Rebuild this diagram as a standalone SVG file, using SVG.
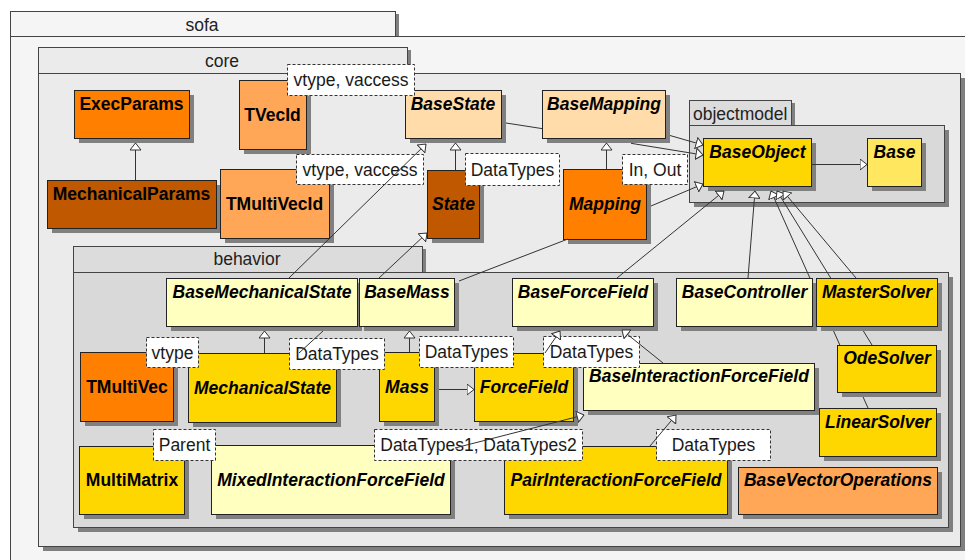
<svg xmlns="http://www.w3.org/2000/svg" width="965" height="560" viewBox="0 0 965 560">
  <defs>
    <style>
      .sh { fill: #808080; }
      .pk { stroke: #444; stroke-width: 1; }
      .n { stroke: #222; stroke-width: 1; }
      .pt { font-family: "Liberation Sans", Arial, sans-serif; font-size: 17.5px; fill: #222; }
      .t { font-family: "Liberation Sans", Arial, sans-serif; font-size: 17.5px; font-weight: bold; fill: #000; text-anchor: middle; }
      .i { font-style: italic; }
      .lb { fill: #fff; stroke: #333; stroke-width: 1; stroke-dasharray: 3 2; }
      .lt { font-family: "Liberation Sans", Arial, sans-serif; font-size: 17.5px; fill: #1a1a1a; text-anchor: middle; }
      .c { fill: none; stroke: #333; stroke-width: 1; }
      .c.a { marker-end: url(#tri); }
      .orange { fill: #ff7f00; }
      .brown { fill: #c05800; }
      .light { fill: #ffa756; }
      .peach { fill: #ffdcaa; }
      .gold { fill: #ffd700; }
      .pale { fill: #ffffc0; }
      .lemon { fill: #ffe760; }
    </style>
    <marker id="tri" viewBox="0 0 8 12" refX="7.5" refY="6" markerWidth="8" markerHeight="12" markerUnits="userSpaceOnUse" orient="auto">
      <path d="M0.5,0.5 L7.5,6 L0.5,11.5 Z" fill="#fff" stroke="#333" stroke-width="1"/>
    </marker>
  </defs>

  <rect x="0" y="0" width="965" height="560" fill="#fff"/>

  <!-- packages -->
  <g id="pkg-sofa">
    <rect class="sh" x="14" y="14" width="385" height="25"/>
    <rect class="pk" x="10.5" y="36.5" width="970" height="540" fill="#f5f5f5"/>
    <rect class="pk" x="10.5" y="11.5" width="385" height="25" fill="#f5f5f5"/>
    <text class="pt" x="202" y="31" text-anchor="middle">sofa</text>
  </g>
  <g id="pkg-core">
    <rect class="sh" x="42" y="50" width="369" height="26"/>
    <rect class="sh" x="43" y="78" width="922" height="473"/>
    <rect class="pk" x="38.5" y="73.5" width="922" height="473" fill="#ebebeb"/>
    <rect class="pk" x="38.5" y="47.5" width="369" height="26" fill="#ebebeb"/>
    <text class="pt" x="222" y="67" text-anchor="middle">core</text>
  </g>
  <g id="pkg-objectmodel">
    <rect class="sh" x="693" y="103" width="102" height="25"/>
    <rect class="sh" x="694" y="130" width="255" height="77"/>
    <rect class="pk" x="689.5" y="125.5" width="255" height="77" fill="#d9d9d9"/>
    <rect class="pk" x="689.5" y="100.5" width="102" height="25" fill="#dcdcdc"/>
    <text class="pt" x="693" y="119.5">objectmodel</text>
  </g>
  <g id="pkg-behavior">
    <rect class="sh" x="77" y="249" width="349" height="26"/>
    <rect class="sh" x="78" y="277" width="875" height="255"/>
    <rect class="pk" x="73.5" y="272.5" width="875" height="255" fill="#d9d9d9"/>
    <rect class="pk" x="73.5" y="246.5" width="349" height="26" fill="#dcdcdc"/>
    <text class="pt" x="247" y="265" text-anchor="middle">behavior</text>
  </g>

  <!-- core nodes -->
  <g id="ExecParams">
    <rect class="sh" x="79" y="95" width="115" height="48"/>
    <rect class="n orange" x="74.5" y="90.5" width="115" height="48"/>
    <text class="t" x="131.5" y="109.5">ExecParams</text>
  </g>
  <g id="MechanicalParams">
    <rect class="sh" x="52" y="185" width="169" height="48"/>
    <rect class="n brown" x="47.5" y="180.5" width="169" height="48"/>
    <text class="t" x="131.5" y="199.5">MechanicalParams</text>
  </g>
  <g id="BaseState">
    <rect class="sh" x="410" y="95" width="96" height="48"/>
    <rect class="n peach" x="405.5" y="90.5" width="96" height="48"/>
    <text class="t i" x="453" y="109.5">BaseState</text>
  </g>
  <g id="TVecId">
    <rect class="sh" x="244" y="85" width="67" height="69"/>
    <rect class="n light" x="239.5" y="80.5" width="67" height="69"/>
    <text class="t" x="272.5" y="120.5">TVecId</text>
    <rect class="lb" x="287.5" y="64.5" width="127" height="31"/>
    <text class="lt" x="351" y="86">vtype, vaccess</text>
  </g>
  <g id="TMultiVecId">
    <rect class="sh" x="225" y="174" width="109" height="69"/>
    <rect class="n light" x="220.5" y="169.5" width="109" height="69"/>
    <text class="t" x="274.5" y="209.5">TMultiVecId</text>
    <rect class="lb" x="296.5" y="154.5" width="127" height="30"/>
    <text class="lt" x="360" y="176">vtype, vaccess</text>
  </g>
  <g id="State">
    <rect class="sh" x="432" y="175" width="52" height="68"/>
    <rect class="n brown" x="427.5" y="170.5" width="52" height="68"/>
    <text class="t i" x="453.5" y="210">State</text>
    <rect class="lb" x="465.5" y="153.5" width="94" height="32"/>
    <text class="lt" x="512.5" y="175.5">DataTypes</text>
  </g>
  <g id="BaseMapping">
    <rect class="sh" x="547" y="95" width="123" height="48"/>
    <rect class="n peach" x="542.5" y="90.5" width="123" height="48"/>
    <text class="t i" x="604" y="109.5">BaseMapping</text>
  </g>
  <g id="Mapping">
    <rect class="sh" x="568" y="174" width="83" height="70"/>
    <rect class="n orange" x="563.5" y="169.5" width="83" height="70"/>
    <text class="t i" x="605" y="210">Mapping</text>
    <rect class="lb" x="622.5" y="154.5" width="65" height="30"/>
    <text class="lt" x="655" y="176">In, Out</text>
  </g>

  <!-- objectmodel nodes -->
  <g id="BaseObject">
    <rect class="sh" x="708" y="143" width="108" height="48"/>
    <rect class="n gold" x="703.5" y="138.5" width="108" height="48"/>
    <text class="t i" x="757.5" y="158">BaseObject</text>
  </g>
  <g id="Base">
    <rect class="sh" x="872" y="143" width="54" height="48"/>
    <rect class="n lemon" x="867.5" y="138.5" width="54" height="48"/>
    <text class="t i" x="894.5" y="158">Base</text>
  </g>

  <!-- behavior nodes -->
  <g id="BaseMechanicalState">
    <rect class="sh" x="171" y="283" width="191" height="48"/>
    <rect class="n pale" x="166.5" y="278.5" width="191" height="48"/>
    <text class="t i" x="262" y="298">BaseMechanicalState</text>
  </g>
  <g id="BaseMass">
    <rect class="sh" x="364" y="283" width="95" height="48"/>
    <rect class="n pale" x="359.5" y="278.5" width="95" height="48"/>
    <text class="t i" x="407" y="298">BaseMass</text>
  </g>
  <g id="BaseForceField">
    <rect class="sh" x="517" y="283" width="141" height="48"/>
    <rect class="n pale" x="512.5" y="278.5" width="141" height="48"/>
    <text class="t i" x="583" y="297.5">BaseForceField</text>
  </g>
  <g id="BaseController">
    <rect class="sh" x="681" y="283" width="136" height="48"/>
    <rect class="n pale" x="676.5" y="278.5" width="136" height="48"/>
    <text class="t i" x="744.5" y="297.5">BaseController</text>
  </g>
  <g id="MasterSolver">
    <rect class="sh" x="821" y="283" width="121" height="48"/>
    <rect class="n gold" x="816.5" y="278.5" width="121" height="48"/>
    <text class="t i" x="877" y="297.5">MasterSolver</text>
  </g>
  <g id="OdeSolver">
    <rect class="sh" x="842" y="350" width="99" height="47"/>
    <rect class="n gold" x="837.5" y="345.5" width="99" height="47"/>
    <text class="t i" x="887" y="364">OdeSolver</text>
  </g>
  <g id="LinearSolver">
    <rect class="sh" x="824" y="413" width="117" height="48"/>
    <rect class="n gold" x="819.5" y="408.5" width="117" height="48"/>
    <text class="t i" x="878" y="428">LinearSolver</text>
  </g>
  <g id="BaseInteractionForceField">
    <rect class="sh" x="588" y="368" width="231" height="47"/>
    <rect class="n pale" x="583.5" y="363.5" width="231" height="47"/>
    <text class="t i" x="699" y="382">BaseInteractionForceField</text>
  </g>
  <g id="ForceField">
    <rect class="sh" x="479" y="358" width="99" height="68"/>
    <rect class="n gold" x="474.5" y="353.5" width="99" height="68"/>
    <text class="t i" x="524" y="393">ForceField</text>
    <rect class="lb" x="543.5" y="336.5" width="96" height="31"/>
    <text class="lt" x="591.5" y="358">DataTypes</text>
  </g>
  <g id="Mass">
    <rect class="sh" x="384" y="357" width="55" height="69"/>
    <rect class="n gold" x="379.5" y="352.5" width="55" height="69"/>
    <text class="t i" x="407" y="393">Mass</text>
    <rect class="lb" x="419.5" y="336.5" width="94" height="31"/>
    <text class="lt" x="466.5" y="358">DataTypes</text>
  </g>
  <g id="MechanicalState">
    <rect class="sh" x="193" y="358" width="148" height="69"/>
    <rect class="n gold" x="188.5" y="353.5" width="148" height="69"/>
    <text class="t i" x="262.5" y="394">MechanicalState</text>
    <rect class="lb" x="289.5" y="338.5" width="95" height="31"/>
    <text class="lt" x="337" y="360">DataTypes</text>
  </g>
  <g id="TMultiVec">
    <rect class="sh" x="85" y="357" width="93" height="69"/>
    <rect class="n orange" x="80.5" y="352.5" width="93" height="69"/>
    <text class="t" x="127" y="392.5">TMultiVec</text>
    <rect class="lb" x="146.5" y="337.5" width="52" height="30"/>
    <text class="lt" x="172.5" y="358.5">vtype</text>
  </g>
  <g id="PairInteractionForceField">
    <rect class="sh" x="509" y="451" width="223" height="68"/>
    <rect class="n gold" x="504.5" y="446.5" width="223" height="68"/>
    <text class="t i" x="616" y="485.5">PairInteractionForceField</text>
    <rect class="lb" x="656.5" y="429.5" width="114" height="31"/>
    <text class="lt" x="713.5" y="451">DataTypes</text>
  </g>
  <g id="MixedInteractionForceField">
    <rect class="sh" x="216" y="450" width="239" height="69"/>
    <rect class="n pale" x="211.5" y="445.5" width="239" height="69"/>
    <text class="t i" x="331" y="485.5">MixedInteractionForceField</text>
    <rect class="lb" x="374.5" y="429.5" width="208" height="31"/>
    <text class="lt" x="478.5" y="451">DataTypes1, DataTypes2</text>
  </g>
  <g id="MultiMatrix">
    <rect class="sh" x="84" y="451" width="105" height="68"/>
    <rect class="n gold" x="79.5" y="446.5" width="105" height="68"/>
    <text class="t" x="132" y="485.5">MultiMatrix</text>
    <rect class="lb" x="153.5" y="429.5" width="62" height="31"/>
    <text class="lt" x="184.5" y="451">Parent</text>
  </g>
  <g id="BaseVectorOperations">
    <rect class="sh" x="743" y="472" width="199" height="47"/>
    <rect class="n light" x="738.5" y="467.5" width="199" height="47"/>
    <text class="t i" x="838" y="485.5">BaseVectorOperations</text>
  </g>

  <!-- connectors (segments hidden behind boxes are left out) -->
  <g id="connectors">
    <path class="c a" d="M135.5,180 L135.5,143"/>
    <path class="c a" d="M455.5,170 L455.5,143"/>
    <path class="c a" d="M606.5,169 L606.5,143"/>
    <path class="c" d="M506,123 L542,128.6"/>
    <path class="c a" d="M631,143.3 L703,155"/>
    <path class="c a" d="M670,135.5 L703,145"/>
    <path class="c" d="M459,281 L568,239"/>
    <path class="c a" d="M651,206 L703,184"/>
    <path class="c a" d="M289,278 L426,144"/>
    <path class="c" d="M299,353 L323,331"/>
    <path class="c a" d="M379,278 L427,233"/>
    <path class="c a" d="M617,278 L724,191"/>
    <path class="c a" d="M748,278 L755,191"/>
    <path class="c" d="M863.1,397 L868,408"/>
    <path class="c" d="M833.6,331 L839.8,345"/>
    <path class="c a" d="M809.9,278 L771,191"/>
    <path class="c" d="M863.4,331 L872,345"/>
    <path class="c a" d="M830.7,278 L777,191"/>
    <path class="c a" d="M856,278 L783,191"/>
    <path class="c a" d="M439,389.5 L474,389.5"/>
    <path class="c a" d="M409.5,352 L409.5,331"/>
    <path class="c a" d="M264.5,353 L264.5,331"/>
    <path class="c a" d="M545,353 L560,331"/>
    <path class="c a" d="M663,363 L622,330"/>
    <path class="c a" d="M650,446 L676,415"/>
    <path class="c a" d="M455,448 L584,415"/>
    <path class="c a" d="M811,164.5 L867,164.5"/>
  </g>
</svg>
